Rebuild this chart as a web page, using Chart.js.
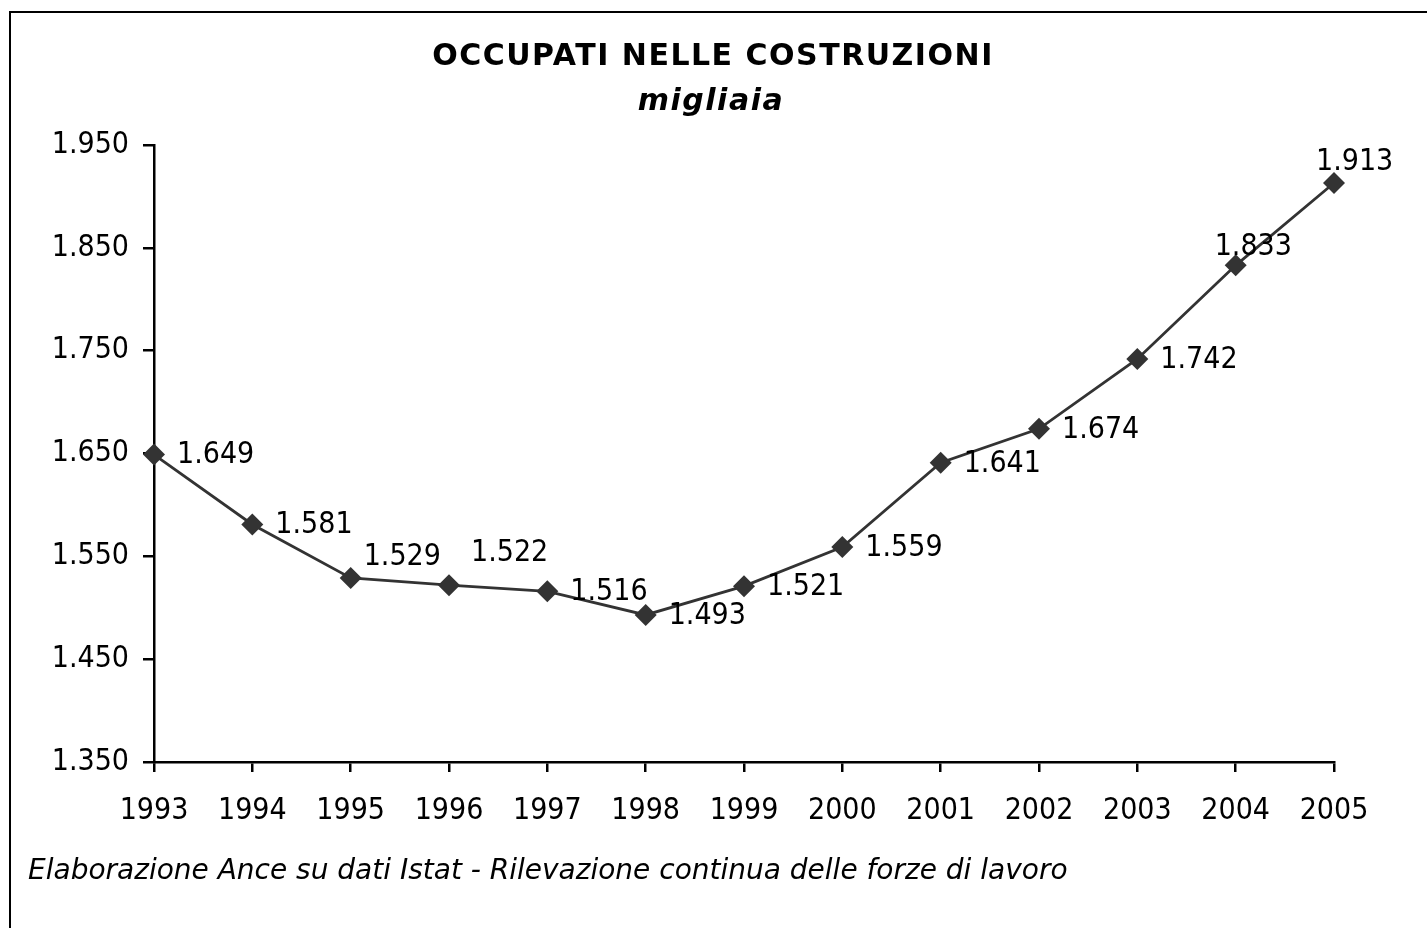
<!DOCTYPE html>
<html>
<head>
<meta charset="utf-8">
<script src="https://cdn.jsdelivr.net/npm/chart.js@4/dist/chart.umd.min.js"></script>
<style>
  html, body { margin: 0; padding: 0; background: #fff; overflow: hidden; }
  #wrap { width: 1427px; height: 928px; position: relative; }
</style>
</head>
<body>
<div id="wrap"><canvas id="chartOccupati" width="1427" height="928"></canvas></div>
<script>
// dati: occupati nelle costruzioni (migliaia)
const anni = ['1993', '1994', '1995', '1996', '1997', '1998', '1999', '2000', '2001', '2002', '2003', '2004', '2005'];
const occupati = [1649, 1581, 1529, 1522, 1516, 1493, 1521, 1559, 1641, 1674, 1742, 1833, 1913];
const yMin = 1350;
const yMax = 1950;
const yStep = 100;

const FONT = '"DejaVu Sans Condensed", "DejaVu Sans", sans-serif';
const FONT_LARGO = '"DejaVu Sans", sans-serif';
const numFmt = v => String(v).replace(/\B(?=(\d{3})+(?!\d))/g, '.');

// spostamento etichette (come nel grafico originale)
const labelOffset = i => {
  if (i === 2) return [13, -21];
  if (i === 3) return [22, -32];
  if (i === 11) return [-21, -18];
  if (i === 12) return [-18, -21];
  return [23, 1];
};

const decorazioni = {
  id: 'decorazioni',
  afterDraw(chart) {
    const ctx = chart.ctx;
    ctx.save();
    // cornice
    ctx.strokeStyle = '#000';
    ctx.lineWidth = 2;
    ctx.strokeRect(10, 12, 1500, 1000);
    // titolo
    ctx.fillStyle = '#000';
    ctx.textAlign = 'center';
    ctx.textBaseline = 'middle';
    ctx.letterSpacing = '1.5px';
    ctx.font = 'bold 30px ' + FONT_LARGO;
    ctx.fillText('OCCUPATI NELLE COSTRUZIONI', 713, 57);
    ctx.font = 'italic bold 30px ' + FONT_LARGO;
    ctx.fillText('migliaia', 711, 102);
    ctx.letterSpacing = '0px';
    // nota
    ctx.textAlign = 'left';
    ctx.font = 'italic 28px ' + FONT_LARGO;
    ctx.fillText('Elaborazione Ance su dati Istat - Rilevazione continua delle forze di lavoro', 28, 872);
    // etichette dei valori
    ctx.font = '30px ' + FONT;
    const meta = chart.getDatasetMeta(0);
    meta.data.forEach((pt, i) => {
      const [dx, dy] = labelOffset(i);
      ctx.fillText(numFmt(occupati[i]), pt.x + dx, pt.y + dy);
    });
    ctx.restore();
  }
};

const ctxOcc = document.getElementById('chartOccupati').getContext('2d');

new Chart(ctxOcc, {
  type: 'line',
  data: {
    labels: anni,
    datasets: [{
      data: occupati,
      borderColor: '#333333',
      borderWidth: 2.8,
      pointStyle: 'rectRot',
      pointRadius: 11,
      pointBackgroundColor: '#333333',
      pointBorderColor: '#333333',
      pointBorderWidth: 0,
      tension: 0,
      clip: false
    }]
  },
  options: {
    responsive: false,
    animation: false,
    events: [],
    layout: {
      padding: { top: 145, right: 93, bottom: 106, left: 0 }
    },
    plugins: {
      legend: { display: false },
      title: { display: false },
      tooltip: { enabled: false }
    },
    scales: {
      x: {
        offset: false,
        afterFit: s => { s.height = 60; },
        grid: {
          drawOnChartArea: false,
          color: '#000',
          lineWidth: 2.5,
          tickLength: 10
        },
        border: { color: '#000', width: 2.5 },
        ticks: {
          color: '#000',
          padding: 21,
          maxRotation: 0,
          font: { family: FONT, size: 30 }
        }
      },
      y: {
        min: yMin,
        max: yMax,
        afterFit: s => { s.width = 154; },
        grid: {
          drawOnChartArea: false,
          color: '#000',
          lineWidth: 2.5,
          tickLength: 11
        },
        border: { color: '#000', width: 2.5 },
        ticks: {
          stepSize: yStep,
          color: '#000',
          padding: 14,
          font: { family: FONT, size: 30 },
          callback: v => numFmt(v)
        }
      }
    }
  },
  plugins: [decorazioni]
});
</script>
</body>
</html>
